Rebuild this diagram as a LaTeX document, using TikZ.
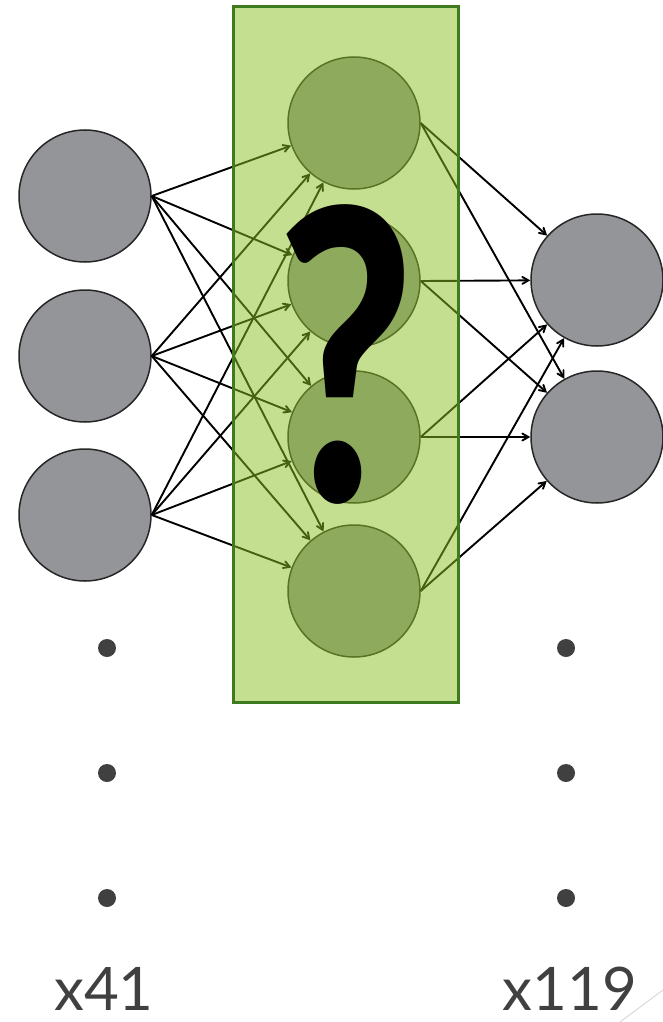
\documentclass[tikz,border=0pt]{standalone}
\usepackage{fontspec}
\setmainfont{Lato}
\newfontfamily\qfont{Carlito}
\usepackage{tikz}
\usetikzlibrary{arrows}
\definecolor{nodegray}{RGB}{147,149,152}
\definecolor{boxgreen}{RGB}{139,192,33}
\definecolor{boxborder}{RGB}{62,122,30}
\definecolor{textgray}{RGB}{64,64,64}

\begin{document}
\begin{tikzpicture}
[x=1pt,y=-1pt,
  nodedecorate/.style={shape=circle,inner sep=0pt,minimum size=132pt,draw=black!85,line width=1.5pt,fill=nodegray},%
  linedecorate/.style={->,>=angle 60,line width=1.9pt,black},
  dotdecorate/.style={shape=circle,inner sep=0pt,minimum size=18pt,fill=textgray},
  labeldecorate/.style={text=textgray,inner sep=0pt,anchor=base,font=\fontsize{60}{60}\selectfont}]
\useasboundingbox (0,0) rectangle (663,1022);
%% nodes or vertices
\foreach \nodename/\x/\y in {i1/85/196, i2/85/356, i3/85/515,
  h1/354/123, h2/354/281, h3/354/437, h4/354/591,
  o1/597/280, o2/597/437}
{
  \node (\nodename) at (\x,\y) [nodedecorate] {};
}
%% edges or lines
\path
\foreach \startnode in {i1, i2, i3}
{
  \foreach \endnode in {h1, h2, h3, h4}
  {
    (\startnode.east) edge[linedecorate] (\endnode)
  }
}
\foreach \startnode in {h1, h2, h3, h4}
{
  \foreach \endnode in {o1, o2}
  {
    (\startnode.east) edge[linedecorate] (\endnode)
  }
};
%% hidden layer box
\draw[fill=boxgreen,fill opacity=0.5,draw=boxborder,line width=3pt] (233,7) rectangle (458,702);
\node (question) at (345,355) [font=\qfont\bfseries\fontsize{430}{430}\selectfont,xscale=0.74,transform shape] {?};
%% dots and counts
\foreach \dotname/\x/\y in {l1/107/648, l2/107/773, l3/107/898,
  r1/566/648, r2/566/773, r3/566/898}
{
  \node (\dotname) at (\x,\y) [dotdecorate] {};
}
\node (inlabel) at (104,1010) [labeldecorate] {x41};
\node (outlabel) at (570,1010) [labeldecorate] {x119};
\draw[black!15,line width=1pt] (620,1022) -- (663,990);
\end{tikzpicture}
\end{document}
